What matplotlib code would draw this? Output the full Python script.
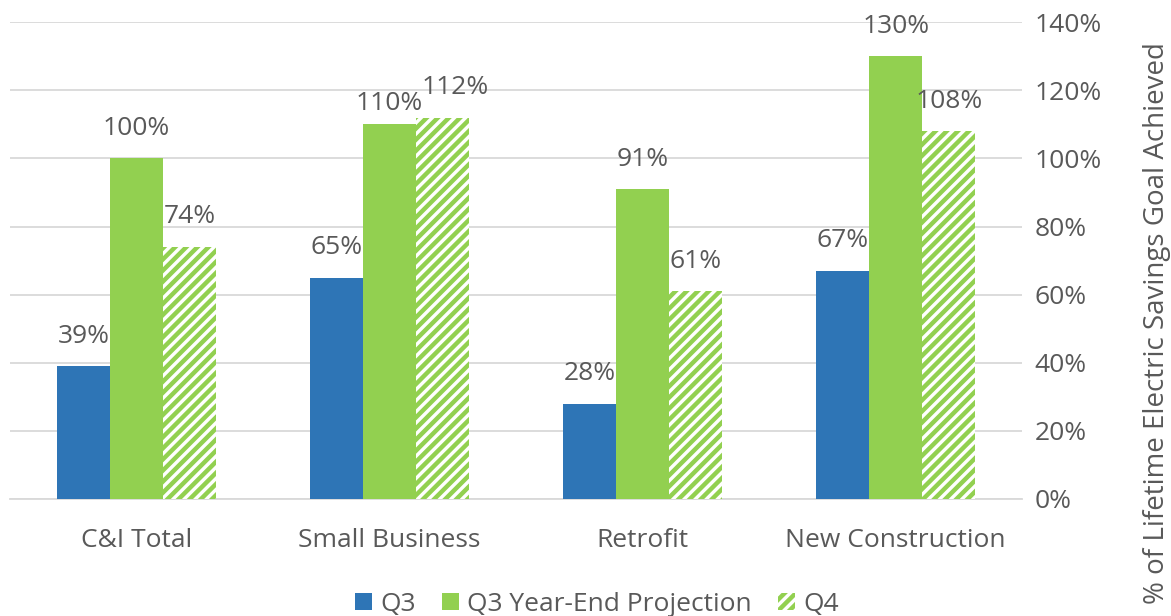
import numpy as np
import matplotlib.pyplot as plt
from matplotlib.ticker import PercentFormatter

categories = ["C&I Total", "Small Business", "Retrofit", "New Construction"]
q3 = [39, 65, 28, 67]
q3_projection = [100, 110, 91, 130]
q4 = [74, 112, 61, 108]
series_names = ["Q3", "Q3 Year-End Projection", "Q4"]

BLUE = "#2E75B6"
GREEN = "#92D050"
TEXT = "#595959"
GRID = "#D9D9D9"
FS = 19

plt.rcParams["font.family"] = ["Open Sans", "DejaVu Sans"]
plt.rcParams["hatch.linewidth"] = 3.2

fig = plt.figure(figsize=(11.71, 6.16), dpi=100)
ax = fig.add_axes([0.0085, 0.19, 0.8645, 0.774])

x = np.arange(len(categories))
w = 0.21

b1 = ax.bar(x - w, q3, w, color=BLUE, label=series_names[0], zorder=3)
b2 = ax.bar(x, q3_projection, w, color=GREEN, label=series_names[1], zorder=3)
b3 = ax.bar(x + w, q4, w, color="white", edgecolor=GREEN, hatch="///",
            linewidth=0, label=series_names[2], zorder=3)

# label nudges (series index, category index) -> (dx, dy) so the two
# crowded Small Business labels don't collide, like the excel original
nudge = {(1, 1): (0.0, -2.8), (2, 1): (0.05, 0.0)}

for s, (bars, vals) in enumerate([(b1, q3), (b2, q3_projection), (b3, q4)]):
    for c, (rect, v) in enumerate(zip(bars, vals)):
        dx, dy = nudge.get((s, c), (0.0, 0.0))
        ax.text(rect.get_x() + rect.get_width() / 2 + dx, v + 8.8 + dy, f"{v}%",
                ha="center", va="center", fontsize=FS, color=TEXT)

ax.set_xlim(-0.5, len(categories) - 0.5)
ax.set_ylim(0, 140)
ax.set_yticks(range(0, 141, 20))
ax.yaxis.set_major_formatter(PercentFormatter(decimals=0))
ax.yaxis.tick_right()
ax.tick_params(axis="y", length=0, labelsize=FS, labelcolor=TEXT, pad=9)
ax.tick_params(axis="x", length=0, labelsize=FS, labelcolor=TEXT, pad=21)
ax.set_xticks(x)
ax.set_xticklabels(categories)

# axis title sits centred on the figure height, as in the original
fig.text(0.988, 0.475, "% of Lifetime Electric Savings Goal Achieved",
         rotation=90, ha="center", va="center", fontsize=20, color=TEXT)

ax.grid(axis="y", color=GRID, linewidth=1.3, zorder=0)
for side in ["top", "left", "right"]:
    ax.spines[side].set_visible(False)
ax.spines["bottom"].set_color(GRID)
ax.spines["bottom"].set_linewidth(1.3)

ax.legend(loc="upper center", bbox_to_anchor=(0.58, -0.145), ncol=3,
          frameon=False, fontsize=FS, labelcolor=TEXT, handlelength=0.65,
          handleheight=0.65, handletextpad=0.3, columnspacing=1.0)

fig.savefig("out.png", dpi=100)
